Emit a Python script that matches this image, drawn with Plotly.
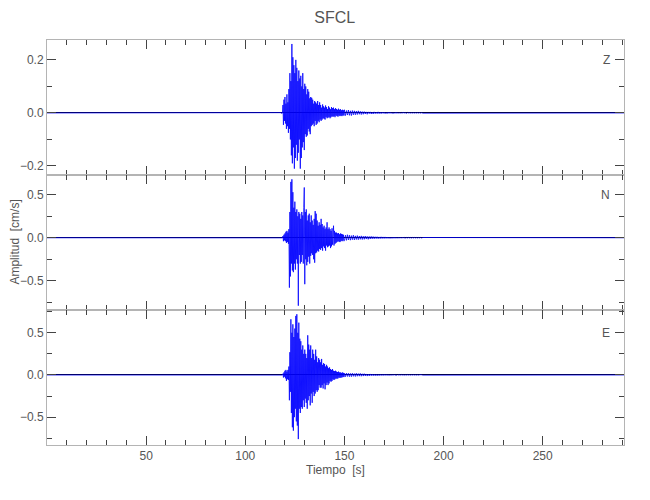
import numpy as np
import plotly.graph_objects as go
from plotly.subplots import make_subplots

# sismograma (cm/s)
# tramo fuerte: cada 0.25 s desde 118 s; cola: cada 0.5 s desde 150 s
t_fuerte_ini = 118.0
dt_fuerte = 0.25
t_cola_ini = 150.0
dt_cola = 0.5
t_fin = 291.0

z_fuerte = [
    0.001, -0.002, 0.002, -0.001, 0.03, -0.045, 0.05, -0.03,
    0.06, -0.04, 0.035, -0.06, 0.07, -0.05, 0.04, -0.075,
    0.09, -0.06, 0.15, -0.1, 0.12, -0.16, 0.26, -0.19,
    0.21, -0.13, 0.18, -0.21, 0.15, -0.17, 0.2, -0.12,
    0.17, -0.18, 0.12, -0.15, 0.16, -0.1, 0.13, -0.21,
    0.14, -0.17, 0.1, -0.13, 0.15, -0.11, 0.09, -0.14,
    0.11, -0.08, 0.1, -0.09, 0.07, -0.085, 0.09, -0.06,
    0.08, -0.07, 0.055, -0.08, 0.06, -0.05, 0.057, -0.045,
    0.05, -0.04, 0.035, -0.05, 0.045, -0.03, 0.04, -0.045,
    0.035, -0.04, 0.045, -0.03, 0.03, -0.035, 0.04, -0.025,
    0.03, -0.03, 0.02, -0.025, 0.032, -0.02, 0.025, -0.022,
    0.02, -0.025, 0.028, -0.015, 0.022, -0.02, 0.015, -0.018,
    0.025, -0.015, 0.02, -0.02, 0.014, -0.016, 0.022, -0.012,
    0.018, -0.015, 0.02, -0.012, 0.014, -0.016, 0.018, -0.01,
    0.015, -0.012, 0.012, -0.014, 0.016, -0.01, 0.012, -0.012,
    0.014, -0.01, 0.01, -0.012, 0.012, -0.009, 0.01, -0.01,
]
z_cola = [
    0.012, -0.01, 0.009, -0.008, 0.011, -0.009, 0.008, -0.01, 0.009, -0.007,
    0.008, -0.007, 0.007, -0.006, 0.008, -0.005, 0.006, -0.006, 0.005, -0.005,
    0.005, -0.004, 0.004, -0.005, 0.004, -0.003, 0.004, -0.004, 0.003, -0.004,
    0.004, -0.003, 0.003, -0.003, 0.004, -0.003, 0.003, -0.003, 0.003, -0.002,
    0.003, -0.003, 0.002, -0.003, 0.003, -0.002, 0.003, -0.002, 0.002, -0.003,
    0.002, -0.002, 0.003, -0.002, 0.002, -0.002, 0.002, -0.002, 0.002, -0.001,
    0.002, -0.001, 0.001, -0.002, 0.002, -0.001, 0.001, -0.001, 0.001, -0.001,
    0.001, -0.001, 0.001, -0.001, 0.001, -0.001, 0.001, -0.001, 0.001, -0.001,
]

n_fuerte = [
    0.001, -0.002, 0.002, -0.001, 0.02, -0.04, 0.035, -0.03,
    0.05, -0.04, 0.07, -0.06, 0.08, -0.05, 0.06, -0.07,
    0.1, -0.58, 0.3, -0.45, 0.65, -0.3, 0.68, -0.38,
    0.53, -0.4, 0.35, -0.3, 0.42, -0.37, 0.3, -0.25,
    0.33, -0.3, 0.25, -0.79, 0.3, -0.2, 0.28, -0.3,
    0.22, -0.28, 0.3, -0.2, 0.26, -0.3, 0.35, 0.585,
    -0.54, 0.3, -0.25, 0.33, -0.32, 0.2, -0.28, 0.26,
    -0.22, 0.28, -0.3, 0.18, -0.21, 0.26, -0.18, 0.2,
    -0.2, 0.15, -0.25, 0.22, -0.29, 0.31, -0.18, 0.28,
    -0.17, 0.2, -0.15, 0.14, -0.16, 0.18, -0.13, 0.15,
    -0.14, 0.22, -0.12, 0.16, -0.15, 0.12, -0.1, 0.14,
    -0.12, 0.1, -0.15, 0.12, -0.09, 0.18, -0.11, 0.1,
    -0.1, 0.12, -0.09, 0.1, -0.12, 0.08, -0.1, 0.11,
    -0.08, 0.1, 0.14, -0.09, 0.08, -0.07, 0.06, -0.06,
    0.06, -0.05, 0.05, -0.04, 0.055, -0.045, 0.04, -0.05,
    0.05, -0.04, 0.045, -0.035, 0.04, -0.04, 0.035, -0.03,
]
n_cola = [
    -0.035, 0.03, -0.03, 0.035, -0.025, 0.03, -0.028, 0.025, -0.022, 0.03,
    -0.025, 0.022, -0.02, 0.025, -0.022, 0.02, -0.018, 0.022, -0.02, 0.018,
    -0.018, 0.02, -0.015, 0.016, -0.018, 0.015, -0.014, 0.016, -0.012, 0.014,
    -0.012, 0.012, -0.01, 0.012, -0.011, 0.01, -0.01, 0.011, -0.009, 0.01,
    -0.009, 0.01, -0.008, 0.009, -0.008, 0.008, -0.009, 0.007, -0.008, 0.008,
    -0.007, 0.008, -0.007, 0.006, -0.007, 0.007, -0.006, 0.006, -0.006, 0.007,
    -0.006, 0.005, -0.006, 0.005, -0.005, 0.006, -0.005, 0.004, -0.005, 0.005,
    -0.004, 0.005, -0.004, 0.004, -0.004, 0.004, -0.003, 0.004, -0.003, 0.003,
]

e_fuerte = [
    0.001, -0.002, 0.002, -0.001, 0.015, -0.03, 0.03, -0.02,
    0.05, -0.04, 0.06, -0.07, 0.04, -0.05, 0.06, -0.06,
    0.1, -0.3, 0.27, -0.2, 0.66, -0.45, 0.5, -0.62,
    0.6, -0.66, 0.45, -0.5, 0.55, -0.4, 0.7, -0.55,
    0.72, -0.6, 0.5, -0.76, 0.62, -0.4, 0.43, -0.45,
    0.4, -0.38, 0.3, -0.4, 0.35, -0.3, 0.25, -0.38,
    0.3, -0.28, 0.25, -0.33, 0.2, -0.4, 0.47, -0.3,
    0.36, -0.25, 0.3, -0.36, 0.35, -0.22, 0.2, -0.33,
    0.3, -0.2, 0.25, -0.25, 0.18, -0.22, 0.3, -0.18,
    0.22, -0.2, 0.15, -0.18, 0.2, -0.12, 0.18, -0.15,
    0.15, -0.15, 0.19, -0.12, 0.12, -0.16, 0.14, -0.1,
    0.13, -0.17, 0.1, -0.12, 0.12, -0.09, 0.1, -0.12,
    0.08, -0.1, 0.09, -0.07, 0.07, -0.08, 0.06, -0.07,
    0.07, -0.05, 0.05, -0.06, 0.045, -0.05, 0.05, -0.04,
    0.04, -0.045, 0.035, -0.04, 0.04, -0.03, 0.03, -0.035,
    0.03, -0.03, 0.025, -0.03, 0.03, -0.022, 0.025, -0.025,
]
e_cola = [
    0.02, -0.02, 0.022, -0.018, 0.02, -0.02, 0.018, -0.02, 0.02, -0.016,
    0.016, -0.018, 0.02, -0.015, 0.016, -0.014, 0.018, -0.015, 0.014, -0.013,
    0.015, -0.012, 0.012, -0.013, 0.011, -0.012, 0.012, -0.01, 0.011, -0.01,
    0.01, -0.01, 0.009, -0.01, 0.008, -0.009, 0.009, -0.008, 0.008, -0.008,
    0.009, -0.007, 0.008, -0.007, 0.007, -0.008, 0.006, -0.007, 0.007, -0.006,
    0.007, -0.006, 0.005, -0.006, 0.006, -0.005, 0.005, -0.005, 0.006, -0.005,
    0.004, -0.005, 0.004, -0.004, 0.005, -0.004, 0.004, -0.004, 0.004, -0.003,
    0.004, -0.003, 0.003, -0.003, 0.003, -0.003, 0.003, -0.002, 0.002, -0.002,
]

componentes = ["Z", "N", "E"]
rangos_y = [[-0.234, 0.275], [-0.84, 0.73], [-0.83, 0.77]]
dtick_y = [0.2, 0.5, 0.5]
etiqueta_y = [0.2, 0.5, 0.5]
ticks_x = [50, 100, 150, 200, 250]

fuente = "Liberation Sans, Arial, sans-serif"
gris = "#555555"

fig = make_subplots(rows=3, cols=1, shared_xaxes=True, vertical_spacing=0)

for i, (fuerte, cola) in enumerate([(z_fuerte, z_cola), (n_fuerte, n_cola), (e_fuerte, e_cola)]):
    t = np.concatenate([
        [0.0],
        t_fuerte_ini + dt_fuerte * np.arange(len(fuerte)),
        t_cola_ini + dt_cola * np.arange(len(cola)),
        [t_fin],
    ])
    y = np.concatenate([[0.0], fuerte, cola, [0.0]])
    fig.add_trace(
        go.Scatter(x=t, y=y, mode="lines", line=dict(color="#0000ff", width=0.8),
                   showlegend=False, hoverinfo="skip"),
        row=i + 1, col=1
    )

ejes = dict(
    showline=True, linecolor="#b4b4b4", linewidth=1, mirror="ticks",
    ticks="inside", tickcolor="#444444", tickwidth=1, automargin=False,
    showgrid=False, tickfont=dict(size=12, color=gris, family=fuente),
)

for i in range(3):
    fig.update_xaxes(
        range=[0, t_fin], tickvals=ticks_x, ticklen=9,
        minor=dict(dtick=10, ticklen=5, ticks="inside", tickcolor="#444444"),
        zeroline=False, showticklabels=(i == 2),
        row=i + 1, col=1, **ejes
    )
    fig.update_yaxes(
        range=rangos_y[i], dtick=dtick_y[i], tickformat=".1f", ticklen=9,
        minor=dict(dtick=dtick_y[i] / 2, ticklen=5, ticks="inside", tickcolor="#444444"),
        zeroline=True, zerolinecolor="black", zerolinewidth=1,
        row=i + 1, col=1, **ejes
    )
    sufijo = str(i + 1) if i else ""
    fig.add_annotation(
        x=t_fin - 6, y=etiqueta_y[i], xref="x" + sufijo, yref="y" + sufijo,
        text=componentes[i], showarrow=False, xanchor="right",
        font=dict(size=12, color=gris, family=fuente)
    )

fig.add_annotation(
    x=-0.057, y=0.5, xref="paper", yref="paper", text="Amplitud  [cm/s]",
    textangle=-90, showarrow=False, xanchor="center", yanchor="middle",
    font=dict(size=12, color=gris, family=fuente)
)
fig.add_annotation(
    x=0.5, y=-0.062, xref="paper", yref="paper", text="Tiempo  [s]",
    showarrow=False, xanchor="center", yanchor="middle",
    font=dict(size=12, color=gris, family=fuente)
)

# la pagina deja 8 px de margen en el body
fig.update_layout(
    width=642, height=492,
    title=dict(text="SFCL", x=0.509, xanchor="center", y=0.98, yanchor="middle",
               font=dict(size=16, color=gris, family=fuente)),
    margin=dict(l=39, r=26, t=32, b=55),
    plot_bgcolor="white", paper_bgcolor="white",
)

fig.write_html("out.html")
